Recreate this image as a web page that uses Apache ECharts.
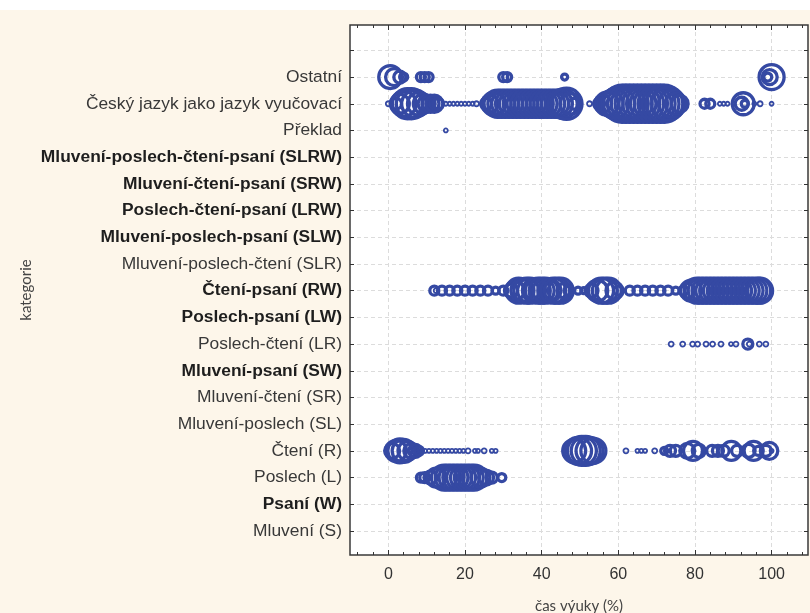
<!DOCTYPE html>
<html>
<head>
<meta charset="utf-8">
<script src="https://cdn.jsdelivr.net/npm/echarts@6/dist/echarts.min.js"></script>
<style>
  html, body { margin: 0; padding: 0; background: #ffffff; }
  #chart { width: 810px; height: 613px; }
</style>
</head>
<body>
<div id="chart"></div>
<script>
// Categories from bottom (index 0) to top (index 17)
const categories = [
  'Mluvení (S)', 'Psaní (W)', 'Poslech (L)', 'Čtení (R)',
  'Mluvení-poslech (SL)', 'Mluvení-čtení (SR)', 'Mluvení-psaní (SW)',
  'Poslech-čtení (LR)', 'Poslech-psaní (LW)', 'Čtení-psaní (RW)',
  'Mluvení-poslech-čtení (SLR)', 'Mluvení-poslech-psaní (SLW)',
  'Poslech-čtení-psaní (LRW)', 'Mluvení-čtení-psaní (SRW)',
  'Mluvení-poslech-čtení-psaní (SLRW)', 'Překlad',
  'Český jazyk jako jazyk vyučovací', 'Ostatní'
];
const boldCategories = [
  'Psaní (W)', 'Mluvení-psaní (SW)', 'Poslech-psaní (LW)', 'Čtení-psaní (RW)',
  'Mluvení-poslech-psaní (SLW)', 'Poslech-čtení-psaní (LRW)',
  'Mluvení-čtení-psaní (SRW)', 'Mluvení-poslech-čtení-psaní (SLRW)'
];

// x tick values (čas výuky, %)
const majorTicks = [0, 20, 40, 60, 80, 100];
const minorTicks = [-8, -4, 4, 8, 12, 16, 24, 28, 32, 36, 44, 48, 52, 56, 64, 68, 72, 76, 84, 88, 92, 96, 104, 108];

// Bubbles per category: [čas výuky (%), weight]
const ostatni = [[0.5,26],[1.5,20],[3,15],[4,11],[8.5,12],[9.5,12],[10.5,12],[30,12],[31,12],[31.5,8],[46,9],[99,11],[99.5,18],[100,28]];
const cesky = [[0,8],[2,14],[3,22],[4,28],[5,33],[6,33],[7,30],[8,26],[9,22],[10,20],[11,20],[12,20],[13,14],
  [15,7],[16,7],[17,7],[18,7],[19,7],[20,7],[21,7],[22,7],[23,8],
  [25.5,14],[26.5,20],[27.5,26],[28.5,30],[29.5,30],[30.5,30],[31.5,30],[32.5,30],[33.5,30],[34.5,30],[35.5,30],[36.5,30],
  [37.5,30],[38.5,30],[39.5,30],[40.5,30],[41.5,30],[42.5,30],[43.5,30],[44.5,30],[45.5,32],[46.5,34],[47.5,24],[48.5,14],
  [52.5,8],[55,14],[56,20],[57,26],[58,28],[59,32],[60,36],[61,40],[62,40],[63,40],[64,40],[65,40],[66,40],[67,40],
  [68,40],[69,40],[70,40],[71,40],[72,40],[73,36],[74,30],[75,24],[76,20],
  [82.5,12],[84,12],[86.5,5],[87.5,5],[88.5,5],[92.2,16],[92.6,25],[93,10],[95.5,7],[97,8],[100,5]];
const preklad = [[15,5]];
const cteniPsani = [[12,12],[12.5,8],[14,12],[16,12],[18,12],[20,12],[22,12],[24,12],[26,12],[28,10],[30,12],
  [32,16],[33,22],[34,28],[35,26],[36,28],[37,28],[38,26],[39,28],[40,28],[41,28],[42,26],[43,28],[44,28],[45,28],[46,18],[47,12],
  [49.5,10],[51,9],[53,16],[54.5,24],[55.5,28],[56.5,28],[57.5,28],[59,20],[60,12],
  [63,12],[65,12],[67,12],[69,12],[71,12],[73,12],[75,10],
  [77,12],[78,18],[79,24],[80.5,28],[81.5,28],[82.5,28],[83.5,28],[84.5,28],[85.5,28],[86.5,28],[87.5,28],[88.5,28],
  [89.5,28],[90.5,28],[91.5,28],[92.5,28],[93.5,28],[94.5,28],[95.5,28],[96.5,28],[97,28]];
const poslechCteni = [[73.8,8],[76.8,8],[79.4,8],[80.7,8],[82.9,8],[84.6,8],[86.8,8],[89.4,6],[90.7,8],[93.8,13],[94.2,8],[96.8,8],[98.5,8]];
const cteni = [[1,18],[2,24],[3,27],[4,26],[5,22],[6,18],[7,16],[8,12],
  [9.6,5],[10.6,5],[11.6,5],[12.6,5],[13.6,5],[14.6,5],[15.6,5],[16.6,5],[17.6,5],[18.6,5],[19.6,5],[20.8,8],[22.6,5],[23.4,5],[25,8],[27,5],[28,5],
  [48.5,26],[49.5,30],[50.5,32],[51.5,32],[52.5,30],[53.5,28],
  [62,8],[65,6],[66,7],[67,6],[69.5,8],[72,10],[73.5,14],[75,14],[78,18],[79.5,22],[81,16],[84.5,14],[86,14],[87.5,14],
  [89.5,22],[91,14],[94,16],[95.3,22],[96.5,12],[98.5,14],[99.4,20],[100,5]];
const poslech = [[8.5,12],[9.5,13],[11,16],[12.5,22],[14.5,28],[15.5,28],[16.5,28],[17.5,28],[18.5,28],[19.5,28],[20.5,28],
  [21.5,28],[22.5,28],[24,22],[25.5,18],[27,14],[29.6,11]];

const rows = [
  ['Ostatní', ostatni],
  ['Český jazyk jako jazyk vyučovací', cesky],
  ['Překlad', preklad],
  ['Čtení-psaní (RW)', cteniPsani],
  ['Poslech-čtení (LR)', poslechCteni],
  ['Čtení (R)', cteni],
  ['Poslech (L)', poslech]
];

const blue = '#3549a3';
const points = [];
rows.forEach(([name, arr]) => {
  const idx = categories.indexOf(name);
  arr.forEach(([x, w]) => {
    // thinner rings for the smallest bubbles so their centres stay open
    const small = w <= 8;
    points.push({
      value: [x, idx, w],
      itemStyle: { borderWidth: small ? 1.8 : 3.3 }
    });
  });
});

const rowTicks = categories.map((_, i) => i).concat([categories.length]);
const rowLabels = categories.map((_, i) => i);

const axisColor = '#333333';
const X_MIN = -10, X_MAX = 109.5;
const Y_MIN = -0.9, Y_MAX = 18.95;
const labelFont = 'Liberation Sans, Arial, sans-serif';
const titleFont = 'Lato, Open Sans, sans-serif';

function xTickAxis(position, ticks, len, withLabels) {
  return {
    type: 'value', min: X_MIN, max: X_MAX, position: position,
    axisLine: { show: false, onZero: false },
    axisTick: { show: true, inside: true, length: len, customValues: ticks, lineStyle: { color: axisColor, width: 1 } },
    axisLabel: withLabels
      ? { show: true, customValues: ticks, fontSize: 16, color: '#333', margin: 12, fontFamily: labelFont }
      : { show: false },
    splitLine: withLabels
      ? { show: true, lineStyle: { type: [4, 3], color: '#dcdcdc', width: 1 } }
      : { show: false }
  };
}

function yTickAxis(position) {
  return {
    type: 'value', min: Y_MIN, max: Y_MAX, position: position,
    axisLine: { show: false, onZero: false },
    axisTick: { show: true, inside: true, length: 4, customValues: rowTicks, lineStyle: { color: axisColor } },
    axisLabel: { show: false },
    splitLine: { show: false }
  };
}

const leftAxis = yTickAxis('left');
leftAxis.axisLabel = {
  show: true, customValues: rowLabels, margin: 8,
  formatter: function (v) {
    const name = categories[Math.round(v)];
    if (!name) return '';
    return boldCategories.indexOf(name) >= 0 ? '{b|' + name + '}' : '{n|' + name + '}';
  },
  rich: {
    b: { fontSize: 17.4, fontWeight: 'bold', color: '#1e1e1e', fontFamily: labelFont },
    n: { fontSize: 17.4, color: '#383838', fontFamily: labelFont }
  }
};
leftAxis.splitLine = { show: true, lineStyle: { type: [4, 3], color: '#dcdcdc', width: 1 } };
leftAxis.name = 'kategorie';
leftAxis.nameLocation = 'middle';
leftAxis.nameRotate = 90;
leftAxis.nameGap = 316;
leftAxis.nameMoveOverlap = false;
leftAxis.nameTextStyle = { fontSize: 15, color: '#444', fontFamily: titleFont };

const bottomAxis = xTickAxis('bottom', majorTicks, 5, true);
bottomAxis.name = 'čas výuky (%)';
bottomAxis.nameLocation = 'middle';
bottomAxis.nameGap = 44;
bottomAxis.nameMoveOverlap = false;
bottomAxis.nameTextStyle = { fontSize: 15, color: '#444', fontFamily: titleFont };

const chart = echarts.init(document.getElementById('chart'), null, { renderer: 'canvas' });
chart.setOption({
  animation: false,
  backgroundColor: '#fdf6ea',
  graphic: [{
    type: 'rect', left: 0, top: 0, z: -10,
    shape: { width: 810, height: 10 },
    style: { fill: '#ffffff' }
  }],
  grid: {
    left: 350, right: 2, top: 25, bottom: 58,
    outerBoundsMode: 'none', containLabel: false,
    show: true, backgroundColor: '#ffffff', borderColor: '#3a3a3a', borderWidth: 1.5
  },
  xAxis: [
    bottomAxis,
    xTickAxis('bottom', minorTicks, 3, false),
    xTickAxis('top', majorTicks, 5, false),
    xTickAxis('top', minorTicks, 3, false)
  ],
  yAxis: [leftAxis, yTickAxis('right')],
  series: [{
    type: 'scatter',
    xAxisIndex: 0, yAxisIndex: 0,
    data: points,
    symbol: 'circle',
    symbolSize: function (d) { return Math.max(4, d[2] - 3); },
    itemStyle: { color: 'rgba(0,0,0,0)', borderColor: blue, borderWidth: 3.3, opacity: 1 },
    emphasis: { disabled: true },
    silent: true
  }]
});
</script>
</body>
</html>
